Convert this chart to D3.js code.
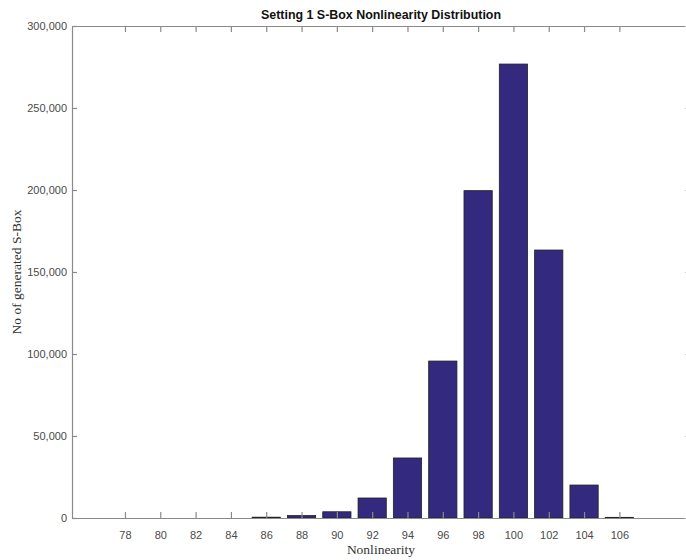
<!DOCTYPE html>
<html>
<head>
<meta charset="utf-8">
<script src="https://cdn.jsdelivr.net/npm/d3@7"></script>
<style>
  body { margin: 0; background: #fff; }
  svg { display: block; }
</style>
</head>
<body>
<div id="chart"></div>
<script>
// nonlinearity bins and number of generated s-boxes
var bins = [78, 80, 82, 84, 86, 88, 90, 92, 94, 96, 98, 100, 102, 104, 106];
var counts = [0, 0, 0, 0, 500, 1500, 3800, 12200, 36600, 95700, 199600, 276800, 163400, 20100, 400];
var yTicks = [0, 50000, 100000, 150000, 200000, 250000, 300000];

var width = 686, height = 560;
var margin = { top: 26, right: -4, bottom: 42, left: 72 };

var svg = d3.select("#chart").append("svg")
    .attr("width", width)
    .attr("height", height);

var x = d3.scaleLinear()
    .domain([75, 110])
    .range([margin.left, width - margin.right]);

var y = d3.scaleLinear()
    .domain([0, 300000])
    .range([height - margin.bottom, margin.top]);

var barW = (x(2) - x(0)) * 0.8;
var axisColor = "#8a8a8a";
var fmt = d3.format(",");

// bars
svg.selectAll(".bar")
    .data(bins)
    .enter().append("rect")
    .attr("class", "bar")
    .attr("x", function (d) { return x(d) - barW / 2; })
    .attr("y", function (d, i) { return y(counts[i]); })
    .attr("width", barW)
    .attr("height", function (d, i) { return y(0) - y(counts[i]); })
    .attr("fill", "#33297f")
    .attr("stroke", "#222")
    .attr("stroke-width", 0.8);

// bottom axis
var xAxis = d3.axisBottom(x).tickValues(bins).tickSizeInner(-6).tickSizeOuter(0).tickPadding(13);
var gx = svg.append("g")
    .attr("transform", "translate(0," + y(0) + ")")
    .call(xAxis);

// top axis (box)
var gt = svg.append("g")
    .attr("transform", "translate(0," + y(300000) + ")")
    .call(d3.axisTop(x).tickValues(bins).tickSizeInner(-6).tickSizeOuter(0).tickFormat(""));

// left axis
var gy = svg.append("g")
    .attr("transform", "translate(" + margin.left + ",0)")
    .call(d3.axisLeft(y).tickValues(yTicks).tickSizeInner(-5).tickSizeOuter(0).tickPadding(5).tickFormat(fmt));

// right axis (box)
var gr = svg.append("g")
    .attr("transform", "translate(" + x(110) + ",0)")
    .call(d3.axisRight(y).tickValues(yTicks).tickSizeInner(-5).tickSizeOuter(0).tickFormat(""));

[gx, gt, gy, gr].forEach(function (g) {
    g.selectAll("path, line").attr("stroke", axisColor).attr("stroke-width", 1.2);
    g.selectAll("text")
        .attr("fill", "#4a4a4a")
        .attr("font-family", "Liberation Sans, Arial, sans-serif")
        .attr("font-size", "11px");
});
gr.selectAll("line").attr("stroke", "#ccc");

// title
svg.append("text")
    .attr("x", x(92.5))
    .attr("y", 19)
    .attr("text-anchor", "middle")
    .attr("font-family", "Liberation Sans, Arial, sans-serif")
    .attr("font-weight", "bold")
    .attr("font-size", "12px")
    .attr("textLength", 240)
    .attr("lengthAdjust", "spacingAndGlyphs")
    .attr("fill", "#111")
    .text("Setting 1 S-Box Nonlinearity Distribution");

// x label
svg.append("text")
    .attr("x", x(92.5))
    .attr("y", 554)
    .attr("text-anchor", "middle")
    .attr("font-family", "Liberation Serif, Times New Roman, serif")
    .attr("font-size", "13.5px")
    .attr("fill", "#333")
    .text("Nonlinearity");

// y label
svg.append("text")
    .attr("transform", "translate(21," + y(150000) + ") rotate(-90)")
    .attr("text-anchor", "middle")
    .attr("font-family", "Liberation Serif, Times New Roman, serif")
    .attr("font-size", "13.5px")
    .attr("fill", "#333")
    .text("No of generated S-Box");
</script>
</body>
</html>
